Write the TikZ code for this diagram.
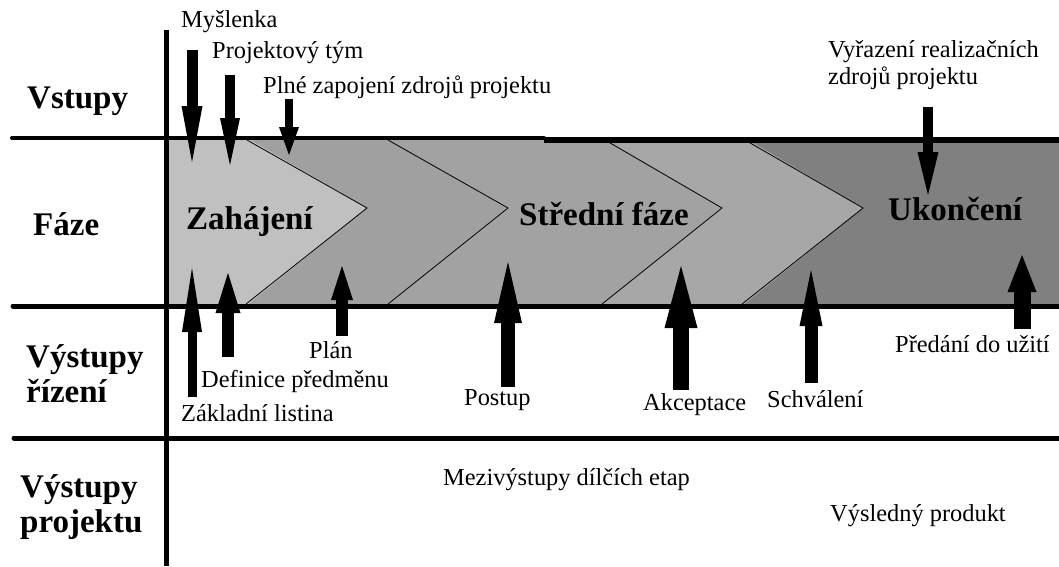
\documentclass[tikz,border=0pt]{standalone}
\usepackage{fontspec}
\setmainfont{Liberation Serif}
\usetikzlibrary{arrows.meta}
\definecolor{gA}{gray}{0.753}
\definecolor{gB}{gray}{0.627}
\definecolor{gC}{gray}{0.635}
\definecolor{gD}{gray}{0.655}
\definecolor{gE}{gray}{0.502}
\tikzset{
  lbl/.style={anchor=base west, inner sep=0pt, align=left, font=\fontsize{24.4}{27}\selectfont},
  hdr/.style={anchor=base west, inner sep=0pt, align=left, font=\fontsize{33}{35}\selectfont\bfseries},
  rulel/.style={line width=5pt, line cap=round},
  chev/.style={line width=0.8pt},
  barrow/.style n args={3}{line width=#1, -{Triangle[width=#2, length=#3, line width=0pt 0 0]}},
}
\begin{document}
\begin{tikzpicture}[x=1pt, y=-1pt]
\useasboundingbox (0,0) rectangle (1059,566);
% band fills
\fill[gE] (166,138) rectangle (1059,306);
\fill[gD] (166,138) -- (745,138) -- (863,208) -- (742,306) -- (166,306) -- cycle;
\fill[gC] (166,138) -- (605,138) -- (722,208) -- (602,306) -- (166,306) -- cycle;
\fill[gB] (166,138) -- (388,138) -- (508,208) -- (388,306) -- (166,306) -- cycle;
\fill[gA] (166,138) -- (247,138) -- (367,208) -- (246,306) -- (166,306) -- cycle;
% chevron lines
\draw[chev] (247,140) -- (367,208) -- (246,304);
\draw[chev] (388,140) -- (508,208) -- (388,304);
\draw[chev] (605,140) -- (722,208) -- (602,304);
\draw[chev] (745,140) -- (863,208) -- (742,304);
% rules
\draw[line width=4pt, line cap=round] (12,138) -- (544,138);
\draw[line width=5.5pt] (544,140) -- (1059,140);
\draw[rulel] (13,306) -- (1059,306);
\draw[rulel] (14,438) -- (1059,438);
\draw[line width=5pt] (166,30) -- (166,566);
% row headers (base = baseline of last line)
\node[hdr] (vstupy) at (27,108) {Vstupy};
\node[hdr] (faze) at (33,235) {Fáze};
\node[hdr] (vrizeni) at (26,402) {Výstupy\\řízení};
\node[hdr] (vprojektu) at (20,532) {Výstupy\\projektu};
% phase names
\node[hdr] (zah) at (186,229) {Zahájení};
\node[hdr] (str) at (519,225) {Střední fáze};
\node[hdr] (uko) at (888,220) {Ukončení};
% input labels
\node[lbl] (mys) at (181,27) {Myšlenka};
\node[lbl] (tym) at (212,58) {Projektový tým};
\node[lbl] (zdr) at (263,93) {Plné zapojení zdrojů projektu};
\node[lbl] (vyr) at (828,84) {Vyřazení realizačních\\zdrojů projektu};
% output labels
\node[lbl] (plan) at (309,358) {Plán};
\node[lbl] (def) at (201,387) {Definice předměnu};
\node[lbl] (zak) at (181,421) {Základní listina};
\node[lbl] (post) at (464,405) {Postup};
\node[lbl] (akc) at (643,410) {Akceptace};
\node[lbl] (sch) at (767,407) {Schválení};
\node[lbl] (pre) at (895,352) {Předání do užití};
\node[lbl] (mezi) at (443,485) {Mezivýstupy dílčích etap};
\node[lbl] (vysl) at (830,521) {Výsledný produkt};
% arrow end points
\coordinate (a1s) at (192,50);  \coordinate (a1e) at (192,162);
\coordinate (a2s) at (230,75);  \coordinate (a2e) at (230,165);
\coordinate (a3s) at (289,99);  \coordinate (a3e) at (289,155);
\coordinate (a4s) at (928,107); \coordinate (a4e) at (928,195);
\coordinate (b1s) at (192,397); \coordinate (b1e) at (192,268);
\coordinate (b2s) at (228,357); \coordinate (b2e) at (228,273);
\coordinate (b3s) at (342,336); \coordinate (b3e) at (342,266);
\coordinate (b4s) at (508,387); \coordinate (b4e) at (508,262);
\coordinate (b5s) at (681,390); \coordinate (b5e) at (681,266);
\coordinate (b6s) at (811,383); \coordinate (b6e) at (811,270);
\coordinate (b7s) at (1022,329); \coordinate (b7e) at (1022,255);
% input arrows
\draw[barrow={11pt}{21pt}{56pt}] (a1s) -- (a1e);
\draw[barrow={10pt}{20pt}{47pt}] (a2s) -- (a2e);
\draw[barrow={8pt}{20pt}{28pt}] (a3s) -- (a3e);
\draw[barrow={10pt}{21pt}{43pt}] (a4s) -- (a4e);
% output arrows
\draw[barrow={9pt}{20pt}{64pt}] (b1s) -- (b1e);
\draw[barrow={12pt}{25pt}{40pt}] (b2s) -- (b2e);
\draw[barrow={12pt}{22pt}{34pt}] (b3s) -- (b3e);
\draw[barrow={14pt}{28pt}{61pt}] (b4s) -- (b4e);
\draw[barrow={16pt}{33pt}{62pt}] (b5s) -- (b5e);
\draw[barrow={13pt}{23pt}{56pt}] (b6s) -- (b6e);
\draw[barrow={17pt}{29pt}{37pt}] (b7s) -- (b7e);
\end{tikzpicture}
\end{document}
